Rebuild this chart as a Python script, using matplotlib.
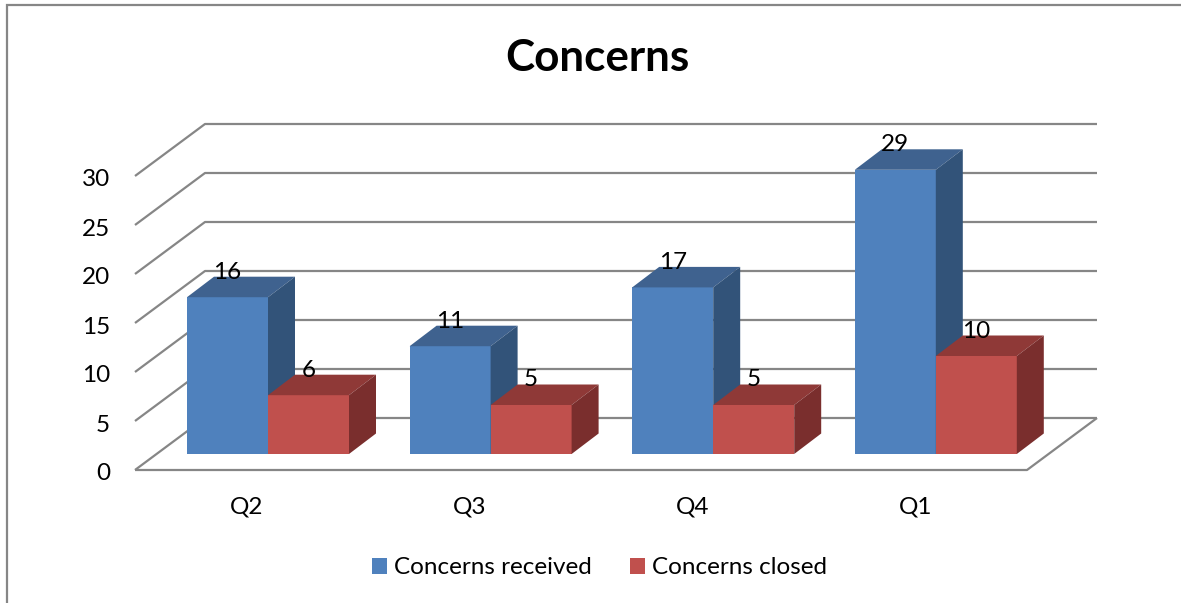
#!/usr/bin/env python3
"""Concerns per quarter, drawn as Excel style pseudo-3D clustered columns."""

import matplotlib
matplotlib.use("Agg")
import matplotlib.pyplot as plt
from matplotlib.lines import Line2D
from matplotlib.patches import Patch, Polygon
from matplotlib.transforms import ScaledTranslation

quarters = ["Q2", "Q3", "Q4", "Q1"]
concerns_received = [16, 11, 17, 29]
concerns_closed = [6, 5, 5, 10]
y_ticks = [0, 5, 10, 15, 20, 25, 30]

W, H = 1181, 603
GRID = "#868686"
BLUE, BLUE_TOP, BLUE_SIDE = "#4F81BD", "#3F628F", "#325379"
RED, RED_TOP, RED_SIDE = "#C0504D", "#8F3937", "#7A2E2D"
FONT_SIZE = 17.5

plt.rcParams["font.family"] = ["Lato", "DejaVu Sans"]

fig = plt.figure(figsize=(W / 100, H / 100), dpi=100)

# axes span = front edge of the floor, in reference pixels
left, right, y0, y30 = 135, 1027, 470, 176
ax = fig.add_axes([left / W, 1 - y0 / H, (right - left) / W, (y0 - y30) / H])
ax.set_xlim(0, len(quarters))
ax.set_ylim(0, 30)
for s in ax.spines.values():
    s.set_visible(False)

px_x = len(quarters) / (right - left)
px_y = 30 / (y0 - y30)

# depth of the chart box and of the bars
wall_dx, wall_dy = 70 * px_x, 52 * px_y
bar_dx, bar_dy = 27 * px_x, 20.5 * px_y
base = 16 * px_y
bar_w = 81 * px_x
group_off = 52 * px_x


def line(xs, ys):
    ax.plot(xs, ys, color=GRID, lw=1.6, clip_on=False, zorder=1, solid_capstyle="butt")


# walls
x_end = len(quarters)
for v in y_ticks:
    line([0, wall_dx, x_end + wall_dx], [v, v + wall_dy, v + wall_dy])
line([0, x_end, x_end + wall_dx], [0, 0, wall_dy])


def column(x, value, front, top, side, z):
    ax.bar(x, value, width=bar_w, bottom=base, align="edge", color=front,
           clip_on=False, zorder=z)
    y1 = base + value
    ax.add_patch(Polygon([(x, y1), (x + bar_w, y1), (x + bar_w + bar_dx, y1 + bar_dy),
                          (x + bar_dx, y1 + bar_dy)], closed=True, color=top, lw=0,
                         clip_on=False, zorder=z))
    ax.add_patch(Polygon([(x + bar_w, base), (x + bar_w + bar_dx, base + bar_dy),
                          (x + bar_w + bar_dx, y1 + bar_dy), (x + bar_w, y1)],
                         closed=True, color=side, lw=0, clip_on=False, zorder=z))
    ax.text(x + bar_w / 2, y1 + 25 * px_y, str(value), ha="center", va="center",
            fontsize=FONT_SIZE, color="black", zorder=20)


for i, (rec, clo) in enumerate(zip(concerns_received, concerns_closed)):
    x = i + group_off - (i * 0.4 * px_x)
    column(x, rec, BLUE, BLUE_TOP, BLUE_SIDE, 3 + i * 2)
    column(x + bar_w, clo, RED, RED_TOP, RED_SIDE, 4 + i * 2)

ax.set_yticks(y_ticks)
ax.set_xticks([i + 0.5 for i in range(len(quarters))])
ax.set_xticklabels(quarters)
ax.tick_params(axis="both", length=0, labelsize=FONT_SIZE, labelcolor="black")
ax.tick_params(axis="y", pad=18)
ax.tick_params(axis="x", pad=19)

# y labels sit a little below their floor/grid corner
nudge = ScaledTranslation(0, -2 / 100, fig.dpi_scale_trans)
for lab in ax.get_yticklabels():
    lab.set_transform(lab.get_transform() + nudge)

fig.text(597 / W, 1 - 58 / H, "Concerns", ha="center", va="center", fontsize=31.7,
         fontweight="bold", color="black")

handles = [Patch(facecolor=BLUE, label="Concerns received"),
           Patch(facecolor=RED, label="Concerns closed")]
fig.legend(handles=handles, loc="center", bbox_to_anchor=(599.5 / W, 1 - 568 / H), ncol=2,
           frameon=False, fontsize=FONT_SIZE, handlelength=0.62, handleheight=0.62,
           handletextpad=0.29, columnspacing=1.56, borderpad=0, borderaxespad=0)

# chart frame, cropped on two sides
fig.add_artist(Line2D([7 / W, 7 / W, 1], [0, 1 - 4.5 / H, 1 - 4.5 / H],
                      color=GRID, lw=1.6, solid_joinstyle="miter"))

fig.savefig("out.png", dpi=100)
